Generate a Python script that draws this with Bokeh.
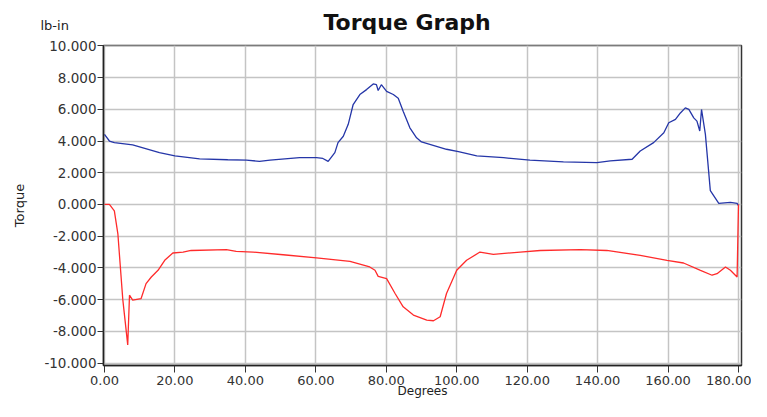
from bokeh.plotting import figure
from bokeh.models import Range1d, FixedTicker, NumeralTickFormatter, Label
from bokeh.embed import file_html
from bokeh.resources import INLINE

# Upper (positive) torque trace
deg_upper = [0, 1.4, 2.8, 8, 15.6, 20, 27, 35, 40.3, 44, 47, 55.4, 60.2, 62, 63.5,
             65.4, 66.3, 67.8, 69.2, 70.6, 72.5, 74.4, 76.3, 77.2, 77.7, 78.6, 80.1,
             82, 83.4, 84.8, 86.7, 88.6, 90, 97.1, 100.5, 105.7, 113.3, 120.8, 130.3,
             139.8, 143.6, 149.8, 152.1, 155.9, 158.8, 160.2, 162.1, 163.5, 164.9,
             165.9, 167.3, 168.2, 169.0, 169.5, 170.6, 172, 174.4, 177.7, 179.6, 180]
torque_upper = [4.42, 4.0, 3.9, 3.75, 3.27, 3.06, 2.88, 2.82, 2.79, 2.72, 2.79, 2.95,
                2.95, 2.9, 2.72, 3.27, 3.9, 4.3, 5.05, 6.3, 6.93, 7.24, 7.6, 7.55, 7.18,
                7.55, 7.13, 6.93, 6.7, 5.88, 4.83, 4.2, 3.94, 3.48, 3.33, 3.06, 2.95,
                2.79, 2.68, 2.64, 2.75, 2.85, 3.37, 3.9, 4.52, 5.15, 5.36, 5.77, 6.09,
                5.99, 5.46, 5.25, 4.63, 5.99, 4.42, 0.87, 0.07, 0.13, 0.07, -0.07]

# Lower (negative) torque trace
deg_lower = [0, 1.4, 2.8, 3.8, 5.2, 6.6, 7.1, 8.0, 10.4, 11.8, 13.3, 15.2, 17.1, 19.4,
             22.3, 24.6, 34.6, 37.4, 42.2, 50.7, 60.2, 69.7, 75.3, 76.8, 77.7, 80.1,
             82.5, 84.8, 87.7, 91.5, 93.4, 95.3, 97.1, 100, 102.8, 106.6, 110.4, 118,
             123.7, 135.1, 142.6, 152.1, 159.7, 164.4, 169.2, 172.5, 173.9, 176.3,
             177.7, 179.6, 180]
torque_lower = [0, 0, -0.4, -1.85, -6.0, -8.85, -5.72, -6.03, -5.93, -4.99, -4.57,
                -4.15, -3.52, -3.06, -3.0, -2.9, -2.85, -2.96, -3.0, -3.17, -3.36,
                -3.59, -3.94, -4.15, -4.53, -4.67, -5.61, -6.45, -6.97, -7.29, -7.33,
                -7.08, -5.61, -4.15, -3.52, -3.0, -3.15, -3.0, -2.9, -2.85, -2.9, -3.21,
                -3.52, -3.69, -4.15, -4.46, -4.36, -3.94, -4.15, -4.57, 0]

x_ticks = [0, 20, 40, 60, 80, 100, 120, 140, 160, 180]
y_ticks = [-10, -8, -6, -4, -2, 0, 2, 4, 6, 8, 10]

chart_title = "Torque Graph"
unit_text = "lb-in"

FONT = "DejaVu Sans"

p = figure(width=751, height=401, output_backend="svg", toolbar_location=None,
           x_range=Range1d(-0.28, 180.85), y_range=Range1d(-10.15, 10.02),
           min_border_left=103, min_border_right=10, min_border_top=45,
           min_border_bottom=36)

p.title.text = ""

p.line(deg_upper, torque_upper, line_color="#2536a8", line_width=1.3)
p.line(deg_lower, torque_lower, line_color="#ff2b2b", line_width=1.3)

p.xaxis.ticker = FixedTicker(ticks=x_ticks)
p.yaxis.ticker = FixedTicker(ticks=y_ticks)
p.xaxis.formatter = NumeralTickFormatter(format="0.00")
p.yaxis.formatter = NumeralTickFormatter(format="0.000")
p.xaxis.minor_tick_line_color = None
p.yaxis.minor_tick_line_color = None

for ax in (p.xaxis, p.yaxis):
    ax.major_label_text_font = FONT
    ax.major_label_text_font_size = "13px"
    ax.major_label_text_color = "#333333"
    ax.axis_label_text_font = FONT
    ax.axis_label_text_font_size = "13px"
    ax.axis_label_text_font_style = "normal"
    ax.axis_label_text_color = "#222222"
    ax.axis_line_color = "#222222"
    ax.axis_line_width = 1.5
    ax.major_tick_line_color = "#333333"
    ax.major_tick_in = 0

p.yaxis.major_label_text_font_size = "13.5px"
p.yaxis.major_tick_out = 6
p.yaxis.major_label_standoff = 1
p.yaxis.axis_label = "Torque"
p.yaxis.axis_label_standoff = 14

p.xaxis.major_tick_out = 7
p.xaxis.major_label_standoff = 3
p.xaxis.axis_label = "Degrees"
p.xaxis.axis_label_text_font_size = "12px"
p.xaxis.axis_label_standoff = -4

p.grid.grid_line_color = "#c4c4c4"
p.grid.grid_line_width = 1.5
p.outline_line_color = "#333333"
p.outline_line_width = 1.5
p.background_fill_color = "white"
p.border_fill_color = "white"

unit_label = Label(x=-63, y=20, x_units="screen", y_units="screen", text=unit_text,
                   text_font=FONT, text_font_size="13px", text_color="#222222",
                   text_baseline="alphabetic")
p.add_layout(unit_label, "above")

title_label = Label(x=220, y=8, x_units="screen", y_units="screen", text=chart_title,
                    text_font=FONT, text_font_size="22px", text_font_style="bold",
                    text_color="#111111", text_baseline="alphabetic")
p.add_layout(title_label, "above")

open("out.html", "w").write(file_html(p, INLINE))
